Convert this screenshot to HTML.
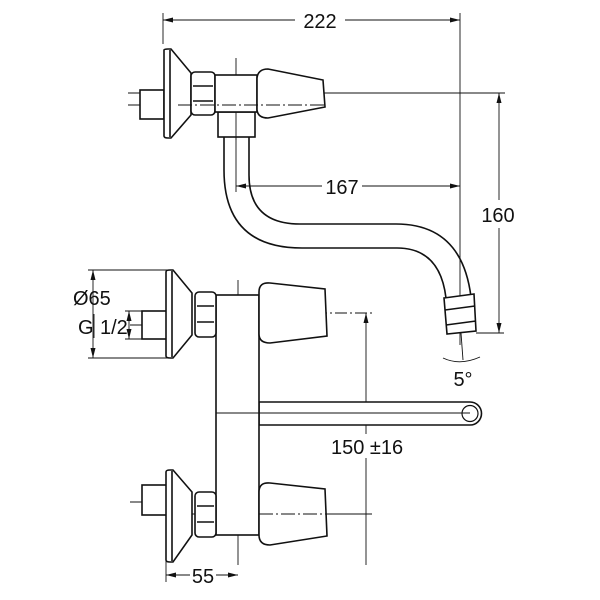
<!DOCTYPE html>
<html><head><meta charset="utf-8"><style>body{margin:0;background:#fff}svg{display:block}text{font-family:"Liberation Sans",sans-serif;font-size:20px;fill:#111}</style></head><body>
<svg width="600" height="600" viewBox="0 0 600 600" xmlns="http://www.w3.org/2000/svg">
<defs><marker id="a" markerWidth="10" markerHeight="6" refX="10" refY="3" orient="auto-start-reverse" markerUnits="userSpaceOnUse"><path d="M0,0.5L10,3L0,5.5z" fill="#111"/></marker></defs>
<g fill="none" stroke="#111" stroke-width="0.9">
<line x1="163" y1="13" x2="163" y2="44"/>
<line x1="163" y1="20" x2="295" y2="20" marker-start="url(#a)"/>
<line x1="345" y1="20" x2="460" y2="20" marker-end="url(#a)"/>
<line x1="460" y1="13" x2="460" y2="345"/>
<line x1="236" y1="58" x2="236" y2="192"/>
<line x1="236" y1="186" x2="322" y2="186" marker-start="url(#a)"/>
<line x1="362" y1="186" x2="460" y2="186" marker-end="url(#a)"/>
<line x1="128" y1="93" x2="505" y2="93"/>
<line x1="499" y1="93" x2="499" y2="200" marker-start="url(#a)"/>
<line x1="499" y1="228" x2="499" y2="333" marker-end="url(#a)"/>
<line x1="476" y1="333" x2="504" y2="333"/>
<line x1="128" y1="105" x2="178" y2="105"/>
<line x1="461" y1="333" x2="463" y2="360"/>
<path d="M443 358 Q460 366 480 357"/>
<line x1="88" y1="270" x2="170" y2="270"/><line x1="88" y1="358" x2="170" y2="358"/>
<line x1="93" y1="270" x2="93" y2="358" marker-start="url(#a)" marker-end="url(#a)"/>
<line x1="125" y1="311" x2="145" y2="311"/><line x1="125" y1="339" x2="145" y2="339"/>
<line x1="129" y1="311" x2="129" y2="339" marker-start="url(#a)" marker-end="url(#a)"/>
<line x1="130" y1="325" x2="178" y2="325"/>
<line x1="175" y1="313" x2="372" y2="313" stroke-dasharray="12 3 2 3"/>
<line x1="238" y1="280" x2="238" y2="565"/>
<line x1="130" y1="502" x2="178" y2="502"/>
<line x1="178" y1="514" x2="372" y2="514"/>
<line x1="366" y1="313" x2="366" y2="434" marker-start="url(#a)"/>
<line x1="366" y1="458" x2="366" y2="565"/>
<line x1="166" y1="535" x2="166" y2="582"/>
<line x1="166" y1="575" x2="190" y2="575" marker-start="url(#a)"/>
<line x1="216" y1="575" x2="238" y2="575" marker-end="url(#a)"/>
</g>
<g fill="none" stroke="#111" stroke-width="1.6">
<path d="M224 137 L224 170 Q224 248 302 248 L397 248 Q440 248 446 298"/>
<path d="M249 137 L249 175 Q249 224 300 224 L396 224 Q462 224 471 297"/>
</g>
<g fill="#fff" stroke="#111" stroke-width="1.6">
<rect x="140" y="90" width="24" height="29"/>
<path d="M164 50 Q164 49 168 49 L171 49 L191 73 L191 115 L171 138 L168 138 Q164 138 164 136Z"/>
<line x1="170" y1="50" x2="170" y2="137"/>
<rect x="191" y="72" width="24" height="43" rx="4"/>
<line x1="193" y1="86" x2="213" y2="86"/><line x1="193" y1="101" x2="213" y2="101"/>
<rect x="218" y="112" width="37" height="25"/>
<rect x="215" y="75" width="42" height="37"/>
<path d="M257 78 Q258 69 268 69 L323 80 L325 107 L268 118 Q258 118 257 110Z"/>
<path d="M444 298 L474 294 L476 331 L447 334Z"/>
<line x1="445" y1="310" x2="475" y2="306"/><line x1="446" y1="325" x2="476" y2="321"/>
<path d="M259 402 L470 402 A11.5 11.5 0 0 1 470 425 L259 425Z"/>
<circle cx="470" cy="413.5" r="8" stroke-width="1.2"/>
<rect x="216" y="295" width="43" height="240"/>
<line x1="216" y1="413" x2="470" y2="413" stroke-width="1"/>
<rect x="142" y="311" width="25" height="28"/>
<path d="M166 272 Q166 270 170 270 L173 270 L192 293 L192 335 L173 358 L170 358 Q166 358 166 356Z"/>
<line x1="172" y1="271" x2="172" y2="357"/>
<rect x="195" y="292" width="21" height="45" rx="4"/>
<line x1="197" y1="306" x2="214" y2="306"/><line x1="197" y1="322" x2="214" y2="322"/>
<path d="M259 292 Q259 282 270 283 L325 289 L327 336 L270 343 Q259 343 259 334Z"/>
<rect x="142" y="485" width="25" height="30"/>
<path d="M166 472 Q166 470 170 470 L173 470 L192 492 L192 535 L173 562 L170 562 Q166 562 166 560Z"/>
<line x1="172" y1="471" x2="172" y2="561"/>
<rect x="195" y="492" width="21" height="45" rx="4"/>
<line x1="197" y1="506" x2="214" y2="506"/><line x1="197" y1="522" x2="214" y2="522"/>
<path d="M259 492 Q259 482 270 483 L325 489 L327 536 L270 545 Q259 545 259 535Z"/>
</g>
<g stroke="#111" stroke-width="0.9">
<line x1="178" y1="105" x2="325" y2="105" stroke-dasharray="14 3 2 3"/>
<line x1="236" y1="112" x2="236" y2="140"/>
<line x1="259" y1="514" x2="327" y2="514" stroke-dasharray="14 3 2 3"/>
</g>
<text x="320" y="28" text-anchor="middle" font-size="21">222</text>
<text x="342" y="194" text-anchor="middle" font-size="21">167</text>
<text x="498" y="222" text-anchor="middle" font-size="21">160</text>
<text x="463" y="386" text-anchor="middle" font-size="21">5°</text>
<text x="73" y="305" font-size="21">Ø65</text>
<text x="78" y="334" font-size="21">G</text>
<text x="100" y="334" font-size="21">1/2</text>
<line x1="94" y1="314" x2="94" y2="338" stroke="#111" stroke-width="0.9"/>
<text x="331" y="454" font-size="21">150 ±16</text>
<text x="203" y="583" text-anchor="middle" font-size="21">55</text>
</svg>
</body></html>
